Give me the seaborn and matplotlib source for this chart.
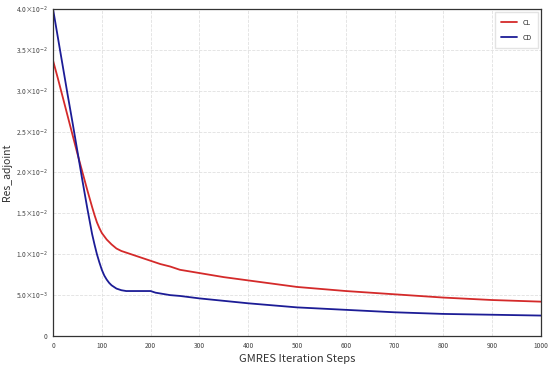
import matplotlib
matplotlib.use('Agg')
import matplotlib.pyplot as plt
from matplotlib.ticker import FuncFormatter, MultipleLocator, AutoMinorLocator
import seaborn as sns
import pandas as pd

steps = [0, 10, 20, 30, 40, 50, 60, 70, 80, 85, 90, 95, 100, 105, 110, 115,
         120, 130, 140, 150, 160, 170, 180, 190, 195, 200, 205, 210, 220, 240,
         260, 300, 350, 400, 500, 600, 700, 800, 900, 1000]
cl = [0.0337, 0.0315, 0.0292, 0.0269, 0.0246, 0.0223, 0.0201, 0.0179, 0.0158,
      0.0148, 0.0139, 0.0132, 0.0126, 0.0122, 0.0118, 0.0115, 0.0112, 0.0107,
      0.0104, 0.0102, 0.0100, 0.0098, 0.0096, 0.0094, 0.0093, 0.0092, 0.0091,
      0.0090, 0.0088, 0.0085, 0.0081, 0.0077, 0.0072, 0.0068, 0.0060, 0.0055,
      0.0051, 0.0047, 0.0044, 0.0042]
cd = [0.0400, 0.0365, 0.0330, 0.0295, 0.0261, 0.0226, 0.0191, 0.0157, 0.0125,
      0.0112, 0.0100, 0.0090, 0.0081, 0.0074, 0.0069, 0.0065, 0.0062, 0.0058,
      0.0056, 0.0055, 0.0055, 0.0055, 0.0055, 0.0055, 0.0055, 0.0055, 0.0054,
      0.0053, 0.0052, 0.0050, 0.0049, 0.0046, 0.0043, 0.0040, 0.0035, 0.0032,
      0.0029, 0.0027, 0.0026, 0.0025]

df = pd.DataFrame({"step": steps + steps,
                   "value": cl + cd,
                   "series": ["CL"] * len(steps) + ["CD"] * len(steps)})

sns.set_style("white")
plt.rcParams['font.family'] = ['Noto Sans CJK JP', 'DejaVu Sans']
plt.rcParams['mathtext.fontset'] = 'dejavusans'

fig = plt.figure(figsize=(5.5, 3.7), dpi=100)
ax = fig.add_axes([0.0964, 0.0919, 0.8872, 0.8838])
sns.lineplot(data=df, x="step", y="value", hue="series", ax=ax,
             palette={"CL": "#d42a2a", "CD": "#1c1c96"}, linewidth=1.3)

ax.set_xlim(0, 1000)
ax.set_ylim(0, 0.04)
ax.xaxis.set_major_locator(MultipleLocator(100))
ax.yaxis.set_major_locator(MultipleLocator(0.005))
ax.yaxis.set_minor_locator(AutoMinorLocator(10))


def sci(v, pos):
    if abs(v) < 1e-12:
        return "0"
    exp = int(f"{v:e}".split("e")[1])
    mant = v / 10 ** exp
    return rf"{mant:.1f}×10$^{{{exp}}}$"


ax.yaxis.set_major_formatter(FuncFormatter(sci))
ax.tick_params(axis='both', labelsize=4.8, labelcolor='#444444', length=2,
               width=0.6, direction='out', pad=2)
ax.tick_params(axis='y', which='minor', length=1.5, width=0.5)
ax.grid(True, linestyle='--', color='#e0e0e0', linewidth=0.6)
for s in ax.spines.values():
    s.set_color('#333333')
    s.set_linewidth(0.9)

ax.set_xlabel("GMRES Iteration Steps", fontsize=8, color='#333333')
ax.set_ylabel("Res_adjoint", fontsize=7.5, color='#333333')
ax.xaxis.set_label_coords(0.5, -0.055)
ax.yaxis.set_label_coords(-0.084, 0.5)
ax.legend(title=None, loc='upper right', fontsize=5, frameon=True,
          edgecolor='#dddddd', fancybox=False, handlelength=2.2,
          borderpad=0.9, labelspacing=1.0)

fig.savefig("out.png", dpi=100)
